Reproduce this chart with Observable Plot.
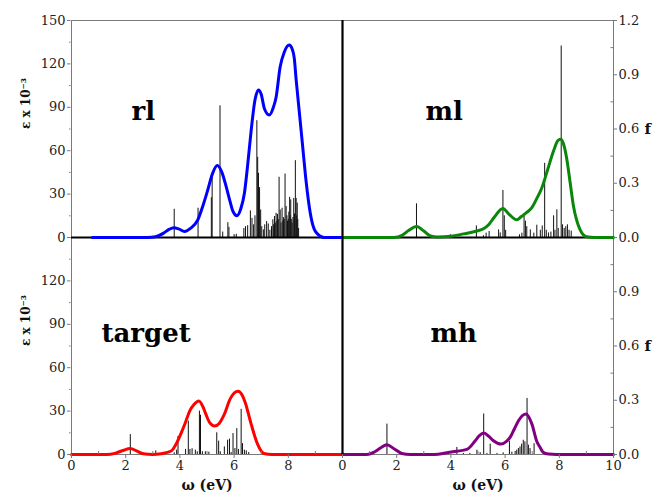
<!DOCTYPE html>
<html>
<head>
<meta charset="utf-8">
<script src="https://cdn.jsdelivr.net/npm/d3@7"></script>
<script src="https://cdn.jsdelivr.net/npm/@observablehq/plot@0.6"></script>
<style>
html, body { margin: 0; padding: 0; background: #fff; }
</style>
</head>
<body>
<div id="chart"></div>
<script>
// ---- Data ----
const panelNames = ["rl", "ml", "target", "mh"];
const panelCols = ["L", "R", "L", "R"];
const panelRows = ["T", "T", "B", "B"];
const panelColors = ["#0000ff", "#0a870a", "#ff0000", "#800080"];

// Broadened spectra: [ω (eV), ε x 10^-3]
const rlCurve = [[0.77,0],[2.8,0],[3.1,0.5],[3.4,3],[3.6,5.6],[3.78,6.8],[3.95,6],[4.17,4.2],[4.4,6.5],[4.66,12.2],[4.85,22],[5.03,33],[5.2,44],[5.38,49.7],[5.55,45],[5.71,35],[5.85,25],[5.96,18],[6.1,15],[6.25,20],[6.38,30.6],[6.5,50],[6.63,74],[6.77,95],[6.9,102],[7.0,99],[7.12,89],[7.3,84.6],[7.45,90],[7.55,97],[7.7,118],[7.85,128],[8.03,133],[8.15,130],[8.22,124],[8.29,109],[8.41,86],[8.53,63],[8.65,40],[8.81,17],[8.95,6],[9.08,2.5],[9.32,0],[10,0]];
const mlCurve = [[0,0],[1.9,0],[2.2,1.5],[2.45,5],[2.73,7.6],[3.0,4.5],[3.25,1],[3.5,0.3],[4.0,0.8],[4.47,2.5],[4.96,4.5],[5.2,6],[5.4,9],[5.6,14],[5.92,20],[6.15,16],[6.43,12.2],[6.6,14.5],[6.8,17.3],[7.0,21],[7.17,27],[7.35,34],[7.54,45],[7.79,60],[7.95,67],[8.05,68],[8.15,65],[8.27,55],[8.4,38],[8.52,22],[8.64,12],[8.77,5.3],[9.01,0.5],[9.3,0],[10,0]];
const targetCurve = [[0,0],[1.3,0],[1.6,0.8],[1.9,2.8],[2.17,4.1],[2.4,2.5],[2.65,0.5],[3.0,0],[3.3,0.5],[3.68,2.4],[3.9,8.7],[4.05,15],[4.2,22],[4.36,30],[4.52,34.5],[4.7,37],[4.85,33],[4.95,28.3],[5.1,22],[5.28,19.7],[5.45,21.5],[5.62,27],[5.86,38.6],[6.0,42.5],[6.15,43.7],[6.3,41],[6.41,36],[6.63,21],[6.87,7],[7.1,0.7],[7.4,0],[10,0]];
const mhCurve = [[0,0],[0.9,0],[1.15,1.5],[1.4,4.5],[1.64,6.8],[1.9,4],[2.19,0.7],[2.5,0],[3.4,0],[3.85,1.2],[4.2,2.2],[4.59,3.5],[4.89,9.3],[5.05,13],[5.22,14.8],[5.4,12.5],[5.57,9.5],[5.85,7.2],[6.05,9],[6.19,12],[6.35,18],[6.5,23.5],[6.65,27],[6.78,28],[6.9,25],[6.99,21],[7.17,9],[7.29,5],[7.4,1.6],[7.6,0.3],[7.9,0],[10,0]];

// Oscillator strengths (sticks): [ω (eV), f]
const rlSticks = [[3.79,0.156],[4.67,0.162],[5.16,0.22],[5.19,0.34],[5.48,0.728],[5.58,0.03],[5.77,0.082],[5.81,0.056],[6.0,0.016],[6.08,0.018],[6.36,0.05],[6.42,0.06],[6.5,0.065],[6.6,0.147],[6.66,0.106],[6.72,0.07],[6.77,0.12],[6.84,0.646],[6.87,0.443],[6.9,0.355],[6.94,0.276],[6.98,0.152],[7.02,0.06],[7.08,0.042],[7.13,0.07],[7.2,0.088],[7.26,0.075],[7.32,0.04],[7.38,0.06],[7.43,0.098],[7.46,0.07],[7.49,0.116],[7.52,0.08],[7.55,0.134],[7.58,0.09],[7.6,0.128],[7.63,0.1],[7.66,0.333],[7.7,0.152],[7.73,0.08],[7.77,0.162],[7.8,0.09],[7.82,0.11],[7.85,0.1],[7.88,0.351],[7.92,0.171],[7.95,0.12],[7.97,0.09],[8.0,0.1],[8.02,0.14],[8.05,0.222],[8.07,0.12],[8.09,0.208],[8.11,0.1],[8.14,0.08],[8.17,0.11],[8.2,0.216],[8.23,0.13],[8.26,0.425],[8.29,0.216],[8.31,0.12],[8.33,0.19],[8.35,0.1],[8.38,0.05]];
const mlSticks = [[2.73,0.186],[3.98,0.015],[4.94,0.064],[5.2,0.01],[5.3,0.024],[5.41,0.033],[5.76,0.042],[5.82,0.025],[5.92,0.26],[5.97,0.12],[6.02,0.04],[6.53,0.015],[6.62,0.024],[6.7,0.116],[6.75,0.09],[6.8,0.06],[6.93,0.042],[7.06,0.024],[7.17,0.068],[7.3,0.04],[7.37,0.064],[7.46,0.41],[7.52,0.04],[7.6,0.025],[7.69,0.03],[7.79,0.12],[7.84,0.04],[7.91,0.153],[7.96,0.05],[8.07,1.059],[8.12,0.07],[8.18,0.05],[8.24,0.06],[8.3,0.07],[8.36,0.04],[8.44,0.035]];
const targetSticks = [[2.17,0.11],[3.11,0.02],[3.79,0.01],[3.88,0.024],[3.93,0.1],[4.21,0.028],[4.31,0.185],[4.37,0.028],[4.45,0.032],[4.57,0.024],[4.64,0.015],[4.72,0.24],[4.76,0.217],[4.83,0.015],[4.94,0.015],[5.07,0.013],[5.36,0.12],[5.43,0.074],[5.49,0.015],[5.64,0.042],[5.76,0.079],[5.83,0.085],[5.89,0.011],[5.96,0.116],[6.03,0.033],[6.1,0.143],[6.16,0.028],[6.26,0.25],[6.31,0.06],[6.38,0.024],[6.45,0.02],[6.54,0.011]];
const mhSticks = [[1.64,0.168],[4.22,0.039],[4.46,0.006],[4.7,0.006],[4.96,0.024],[5.08,0.01],[5.21,0.224],[5.33,0.006],[5.45,0.057],[5.7,0.006],[5.93,0.009],[6.16,0.072],[6.25,0.013],[6.37,0.017],[6.43,0.024],[6.49,0.033],[6.55,0.042],[6.61,0.057],[6.67,0.079],[6.73,0.07],[6.81,0.31],[6.86,0.052],[6.92,0.033],[7.07,0.06]];

// Tick values and labels
const xTicks = [0, 2, 4, 6, 8, 10];
const xMinor = [1, 3, 5, 7, 9];
const epsTicks = [0, 30, 60, 90, 120, 150];
const epsMinor = [15, 45, 75, 105, 135];
const fTicks = [0, 0.3, 0.6, 0.9, 1.2];
const fMinor = [0.15, 0.45, 0.75, 1.05];
const epsTitle = "ε x 10⁻³";
const fTitle = "f";
const xTitle = "ω (eV)";

// ---- Layout ----
const W = 654, H = 497;
const ML = 70, MR = 41, MT = 20, MB = 43;
const fw = (W - ML - MR) / 2, fh = (H - MT - MB) / 2;
const serif = "DejaVu Serif";
const axisGray = "#7a7a7a";
// the f axis maps onto the ε axis (0..150 <-> 0..1.2)
const k = epsTicks[epsTicks.length - 1] / fTicks[fTicks.length - 1];

const curves = [rlCurve, mlCurve, targetCurve, mhCurve];
const sticks = [rlSticks, mlSticks, targetSticks, mhSticks];
const panels = panelNames.map((name, i) => ({
  name, col: panelCols[i], row: panelRows[i], color: panelColors[i],
  curve: curves[i], sticks: sticks[i]
}));

// tick label tables (the lower row drops the label shared with the row above)
const leftLabels = [
  ...epsTicks.map(v => ({row: "T", v})),
  ...epsTicks.slice(0, -1).map(v => ({row: "B", v}))
];
const rightLabels = [
  ...fTicks.map(v => ({row: "T", v})),
  ...fTicks.slice(0, -1).map(v => ({row: "B", v}))
];
const bottomLabels = [
  ...xTicks.slice(0, -1).map(v => ({col: "L", v})),
  ...xTicks.map(v => ({col: "R", v}))
];

const marks = [];
marks.push(Plot.frame({stroke: axisGray, strokeWidth: 1}));
panels.forEach(p => {
  marks.push(Plot.ruleX(p.sticks, {
    x: d => d[0], y1: 0, y2: d => d[1] * k,
    fx: () => p.col, fy: () => p.row,
    stroke: "#111", strokeWidth: 1
  }));
});
marks.push(Plot.ruleY([0], {y: d => d, fy: () => "T", stroke: "black", strokeWidth: 2.2}));
panels.forEach(p => {
  marks.push(Plot.line(p.curve, {
    x: d => d[0], y: d => d[1],
    fx: () => p.col, fy: () => p.row,
    stroke: p.color, strokeWidth: 3, curve: "monotone-x"
  }));
});
marks.push(Plot.ruleX([0], {x: d => d, fx: () => "R", stroke: "black", strokeWidth: 2.2}));

// ticks
marks.push(Plot.tickY(epsTicks, {y: d => d, fx: () => "L", insetRight: fw - 4, dx: -4, stroke: axisGray}));
marks.push(Plot.tickY(epsMinor, {y: d => d, fx: () => "L", insetRight: fw - 2, dx: -2, stroke: axisGray}));
marks.push(Plot.tickY(fTicks, {y: d => d * k, fx: () => "R", insetLeft: fw - 4, dx: 4, stroke: axisGray}));
marks.push(Plot.tickY(fMinor, {y: d => d * k, fx: () => "R", insetLeft: fw - 3, stroke: axisGray}));
marks.push(Plot.tickX(xTicks, {x: d => d, fy: () => "B", insetTop: fh - 4, dy: 4, stroke: axisGray}));
marks.push(Plot.tickX(xMinor, {x: d => d, fy: () => "B", insetTop: fh - 3, stroke: axisGray}));

// tick labels
marks.push(Plot.text(leftLabels, {
  y: "v", text: d => String(d.v), fx: () => "L", fy: "row",
  frameAnchor: "left", textAnchor: "end", dx: -6,
  fontSize: 13, fontFamily: serif, fill: "#222"
}));
marks.push(Plot.text(rightLabels, {
  y: d => d.v * k, text: d => d.v.toFixed(1), fx: () => "R", fy: "row",
  frameAnchor: "right", textAnchor: "start", dx: 5,
  fontSize: 13, fontFamily: serif, fill: "#222"
}));
marks.push(Plot.text(bottomLabels, {
  x: "v", text: d => String(d.v), fx: "col", fy: () => "B",
  frameAnchor: "bottom", lineAnchor: "top", dy: 6,
  fontSize: 13, fontFamily: serif, fill: "#222"
}));

// axis titles
marks.push(Plot.text(["T", "B"], {
  fy: d => d, fx: () => "L", text: () => epsTitle,
  frameAnchor: "left", rotate: -90, dx: -45,
  fontSize: 12, fontWeight: "bold", fontFamily: serif, fill: "#111"
}));
marks.push(Plot.text(["T", "B"], {
  fy: d => d, fx: () => "R", text: () => fTitle,
  frameAnchor: "right", textAnchor: "start", dx: 31,
  fontSize: 15, fontWeight: "bold", fontFamily: serif, fill: "#111"
}));
marks.push(Plot.text(["L", "R"], {
  fx: d => d, fy: () => "B", text: () => xTitle,
  frameAnchor: "bottom", dy: 35,
  fontSize: 14, fontWeight: "bold", fontFamily: serif, fill: "#111"
}));

// panel names
const labelOffsets = {rl: [60, 81], ml: [83, 81], target: [30, 86], mh: [88, 86]};
panels.forEach(p => {
  marks.push(Plot.text([p.name], {
    text: d => d, fx: () => p.col, fy: () => p.row,
    frameAnchor: "top-left", textAnchor: "start",
    dx: labelOffsets[p.name][0], dy: labelOffsets[p.name][1],
    fontSize: 26, fontWeight: "bold", fontFamily: serif, fill: "#000"
  }));
});

const chart = Plot.plot({
  width: W, height: H,
  marginLeft: ML, marginRight: MR, marginTop: MT, marginBottom: MB,
  style: {background: "#fff", overflow: "visible"},
  fx: {domain: ["L", "R"], padding: 0, axis: null},
  fy: {domain: ["T", "B"], padding: 0, axis: null},
  x: {domain: [0, 10], axis: null},
  y: {domain: [0, epsTicks[epsTicks.length - 1]], axis: null},
  marks
});
document.getElementById("chart").appendChild(chart);
</script>
</body>
</html>
